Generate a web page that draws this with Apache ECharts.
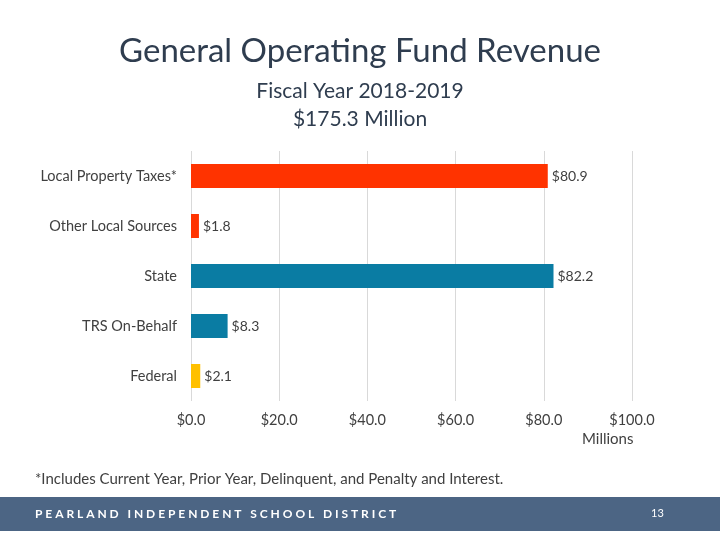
<!DOCTYPE html>
<html><head><meta charset="utf-8">
<script src="https://cdn.jsdelivr.net/npm/echarts@6/dist/echarts.min.js"></script>
<style>html,body{margin:0;padding:0;background:#fff}#c{width:720px;height:540px}</style>
</head><body><div id="c"></div>
<script>
const categories = ["Local Property Taxes*", "Other Local Sources", "State", "TRS On-Behalf", "Federal"];
const values = [80.9, 1.8, 82.2, 8.3, 2.1];
const barColors = ["#FF3300", "#FF3300", "#0A7CA3", "#0A7CA3", "#FFC000"];
const tickLabels = ["$0.0", "$20.0", "$40.0", "$60.0", "$80.0", "$100.0"];

const chart = echarts.init(document.getElementById('c'));
const font = 'Lato, "Open Sans", sans-serif';
chart.setOption({
  animation: false,
  backgroundColor: '#fff',
  title: [
    {text: 'General Operating Fund Revenue', left: 'center', top: 30,
     textStyle: {fontFamily: font, fontSize: 33, fontWeight: 'normal', color: '#2F3D4F'}},
    {text: 'Fiscal Year 2018-2019', left: 'center', top: 76,
     textStyle: {fontFamily: font, fontSize: 21, fontWeight: 'normal', color: '#2F3D4F'}},
    {text: '$175.3 Million', left: 'center', top: 104,
     textStyle: {fontFamily: font, fontSize: 21, fontWeight: 'normal', color: '#2F3D4F'}}
  ],
  grid: {left: 191, right: 88, top: 151, bottom: 139, containLabel: false},
  xAxis: {
    type: 'value', min: 0, max: 100, interval: 20,
    axisLine: {show: false}, axisTick: {show: false},
    splitLine: {lineStyle: {color: '#D9D9D9', width: 1}},
    axisLabel: {margin: 12, fontFamily: font, fontSize: 14.5, color: '#404040',
      formatter: v => tickLabels[Math.round(v / 20)]}
  },
  yAxis: {
    type: 'category', inverse: true, data: categories,
    axisLine: {show: false}, axisTick: {show: false},
    axisLabel: {margin: 14, fontFamily: font, fontSize: 14.5, color: '#404040'}
  },
  series: [{
    type: 'bar', barWidth: 24,
    data: values.map((v, i) => ({value: v, itemStyle: {color: barColors[i]}})),
    label: {show: true, position: 'right', distance: 4, fontFamily: font, fontSize: 14, color: '#404040',
      formatter: p => '$' + p.value.toFixed(1)}
  }],
  graphic: [
    {type: 'text', left: 582, top: 432, style: {text: 'Millions', font: '15px ' + font, fill: '#404040'}},
    {type: 'text', left: 35, top: 472, style: {text: '*Includes Current Year, Prior Year, Delinquent, and Penalty and Interest.', font: '15px ' + font, fill: '#404040'}},
    {type: 'rect', shape: {x: 0, y: 497, width: 720, height: 34}, style: {fill: '#4C6584'}},
    {type: 'text', left: 35, top: 508, style: {text: 'P E A R L A N D   I N D E P E N D E N T   S C H O O L   D I S T R I C T', font: 'bold 12px ' + font, fill: '#FFFFFF'}},
    {type: 'text', left: 651, top: 508, style: {text: '13', font: '11px ' + font, fill: '#FFFFFF'}}
  ]
});
</script></body></html>
